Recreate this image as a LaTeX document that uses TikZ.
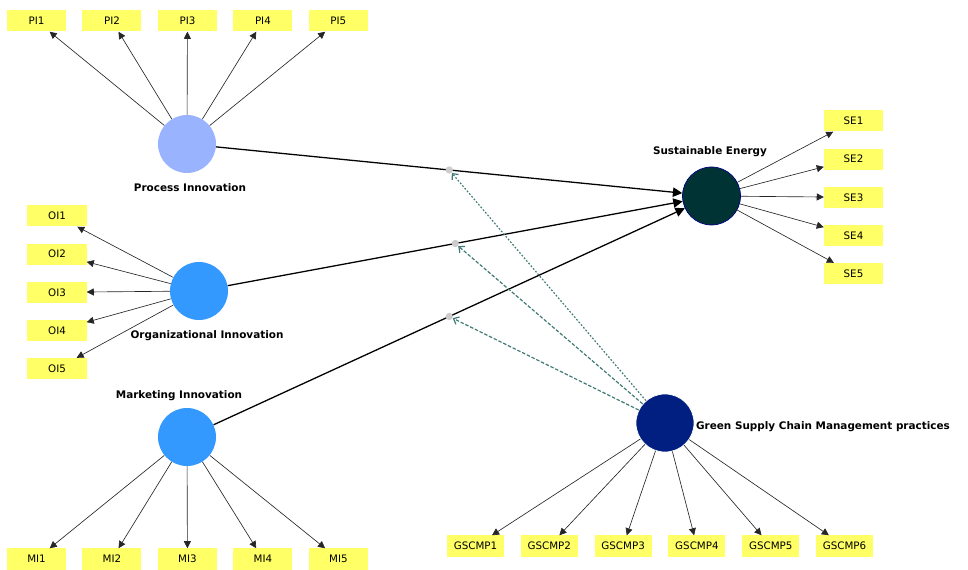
\documentclass[tikz,border=0pt]{standalone}
\usepackage{fontspec}
\setmainfont{DejaVu Sans}
\usetikzlibrary{positioning, arrows.meta, calc}
\definecolor{indyellow}{HTML}{FFFF66}
\definecolor{modteal}{HTML}{3D7A73}
\definecolor{pifill}{HTML}{99B3FF}
\definecolor{oifill}{HTML}{3399FF}
\definecolor{sefill}{HTML}{003333}
\definecolor{gsfill}{HTML}{001F80}

\begin{document}
\begin{tikzpicture}[
    x=0.03cm, y=-0.03cm,
    indbox/.style={
        rectangle,
        fill=indyellow,
        minimum width=1.77cm,
        minimum height=0.63cm,
        inner sep=0pt,
        font=\fontsize{8.8}{10}\selectfont
    },
    latent/.style={circle, minimum size=1.74cm, inner sep=0pt},
    lvlabel/.style={font=\fontsize{8.9}{10}\selectfont\bfseries},
    loadarrow/.style={-{Triangle[length=6pt,width=6pt]}, black!85, line width=0.55pt},
    patharrow/.style={-{Triangle[length=8pt,width=8pt]}, black, line width=1.1pt},
    modarrow/.style={-{Straight Barb[length=4pt,width=7pt]}, modteal, line width=1pt},
    modpoint/.style={circle, fill=gray!40, minimum size=0.22cm, inner sep=0pt}
]
    \useasboundingbox (0,0) rectangle (968,570);

    % Latent variables
    \node[latent, fill=pifill] (pi) at (187,144) {};
    \node[latent, fill=oifill] (oi) at (199,291) {};
    \node[latent, fill=oifill] (mi) at (187,437) {};
    \node[latent, fill=sefill, draw=blue!50!black, line width=0.6pt] (se) at (711.5,196) {};
    \node[latent, fill=gsfill, draw=white, line width=0.6pt] (gs) at (665,423) {};

    % Labels
    \node[lvlabel] (pilab) at (190,188) {Process Innovation};
    \node[lvlabel] (oilab) at (207,336) {Organizational Innovation};
    \node[lvlabel] (milab) at (179,396) {Marketing Innovation};
    \node[lvlabel] (selab) at (710,152) {Sustainable Energy};
    \node[lvlabel, anchor=west] (gslab) at (692,427) {Green Supply Chain Management practices};

    % Process Innovation indicators
    \node[indbox] (pi1) at (36.5,21) {PI1};
    \node[indbox, right=0.48cm of pi1] (pi2) {PI2};
    \node[indbox, right=0.48cm of pi2] (pi3) {PI3};
    \node[indbox, right=0.48cm of pi3] (pi4) {PI4};
    \node[indbox, right=0.48cm of pi4] (pi5) {PI5};

    % Organizational Innovation indicators
    \node[indbox] (oi1) at (57,216) {OI1};
    \node[indbox, below=0.5cm of oi1] (oi2) {OI2};
    \node[indbox, below=0.5cm of oi2] (oi3) {OI3};
    \node[indbox, below=0.5cm of oi3] (oi4) {OI4};
    \node[indbox, below=0.5cm of oi4] (oi5) {OI5};

    % Marketing Innovation indicators
    \node[indbox] (mi1) at (36.5,559) {MI1};
    \node[indbox, right=0.48cm of mi1] (mi2) {MI2};
    \node[indbox, right=0.48cm of mi2] (mi3) {MI3};
    \node[indbox, right=0.48cm of mi3] (mi4) {MI4};
    \node[indbox, right=0.48cm of mi4] (mi5) {MI5};

    % Sustainable Energy indicators
    \node[indbox] (se1) at (853.5,121) {SE1};
    \node[indbox, below=0.5cm of se1] (se2) {SE2};
    \node[indbox, below=0.5cm of se2] (se3) {SE3};
    \node[indbox, below=0.5cm of se3] (se4) {SE4};
    \node[indbox, below=0.5cm of se4] (se5) {SE5};

    % Green Supply Chain Management indicators
    \node[indbox, minimum width=1.71cm] (gs1) at (475.5,546) {GSCMP1};
    \node[indbox, minimum width=1.71cm, right=0.49cm of gs1] (gs2) {GSCMP2};
    \node[indbox, minimum width=1.71cm, right=0.49cm of gs2] (gs3) {GSCMP3};
    \node[indbox, minimum width=1.71cm, right=0.49cm of gs3] (gs4) {GSCMP4};
    \node[indbox, minimum width=1.71cm, right=0.49cm of gs4] (gs5) {GSCMP5};
    \node[indbox, minimum width=1.71cm, right=0.49cm of gs5] (gs6) {GSCMP6};

    % Loadings
    \draw[loadarrow] (pi) -- (pi1);
    \draw[loadarrow] (pi) -- (pi2);
    \draw[loadarrow] (pi) -- (pi3);
    \draw[loadarrow] (pi) -- (pi4);
    \draw[loadarrow] (pi) -- (pi5);

    \draw[loadarrow] (oi) -- (oi1);
    \draw[loadarrow] (oi) -- (oi2);
    \draw[loadarrow] (oi) -- (oi3);
    \draw[loadarrow] (oi) -- (oi4);
    \draw[loadarrow] (oi) -- (oi5);

    \draw[loadarrow] (mi) -- (mi1);
    \draw[loadarrow] (mi) -- (mi2);
    \draw[loadarrow] (mi) -- (mi3);
    \draw[loadarrow] (mi) -- (mi4);
    \draw[loadarrow] (mi) -- (mi5);

    \draw[loadarrow] (se) -- (se1);
    \draw[loadarrow] (se) -- (se2);
    \draw[loadarrow] (se) -- (se3);
    \draw[loadarrow] (se) -- (se4);
    \draw[loadarrow] (se) -- (se5);

    \draw[loadarrow] (gs) -- (gs1);
    \draw[loadarrow] (gs) -- (gs2);
    \draw[loadarrow] (gs) -- (gs3);
    \draw[loadarrow] (gs) -- (gs4);
    \draw[loadarrow] (gs) -- (gs5);
    \draw[loadarrow] (gs) -- (gs6);

    % Structural paths
    \draw[patharrow] (pi) -- (se);
    \draw[patharrow] (oi) -- (se);
    \draw[patharrow] (mi) -- (se);

    % Moderating effects
    \node[modpoint] (m1) at ($(pi)!0.5!(se)$) {};
    \node[modpoint] (m2) at ($(oi)!0.5!(se)$) {};
    \node[modpoint] (m3) at ($(mi)!0.5!(se)$) {};

    \draw[modarrow, dash pattern=on 1.5pt off 1.5pt] (gs) -- (m1);
    \draw[modarrow, dash pattern=on 3pt off 1.5pt] (gs) -- (m2);
    \draw[modarrow, dash pattern=on 3pt off 1.5pt] (gs) -- (m3);
\end{tikzpicture}
\end{document}
